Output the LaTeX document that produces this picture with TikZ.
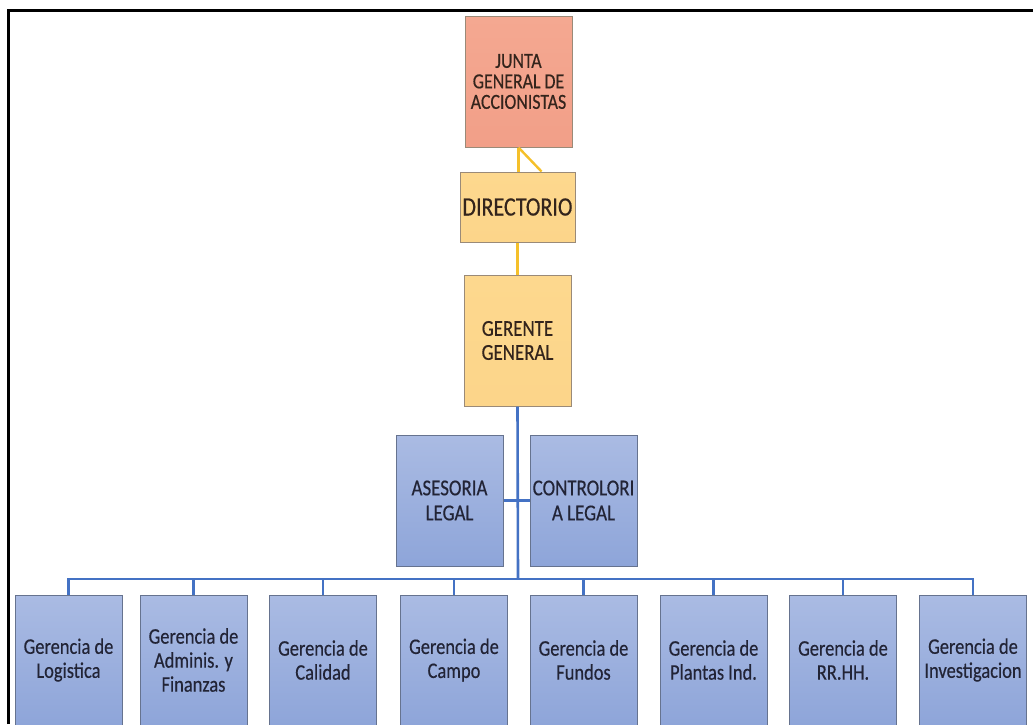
\documentclass[tikz,border=0pt]{standalone}
\usepackage{fontspec}
\setmainfont{Carlito}[FakeStretch=0.83, FakeBold=0.4]
\definecolor{salmon}{HTML}{F29F88}
\definecolor{salmontop}{HTML}{F4A891}
\definecolor{gold}{HTML}{FCD58A}
\definecolor{goldtop}{HTML}{FDD88E}
\definecolor{bluetop}{HTML}{AABBE3}
\definecolor{bluebot}{HTML}{8EA5D9}
\definecolor{blueedge}{HTML}{66738F}
\definecolor{orangeedge}{HTML}{9A8A78}
\definecolor{lineblue}{HTML}{4472C4}
\definecolor{lineyellow}{HTML}{F5C02A}
\definecolor{darktext}{HTML}{222436}
\definecolor{browntext}{HTML}{33241C}
\tikzset{
  orgbox/.style={draw, line width=1pt, inner sep=0pt, align=center, minimum width=107pt, minimum height=131pt},
  topbox/.style={orgbox, draw=orangeedge, top color=salmontop, bottom color=salmon, text=browntext,
    font=\fontsize{21.5}{20.5}\selectfont},
  goldbox/.style={orgbox, draw=orangeedge, top color=goldtop, bottom color=gold, text=browntext},
  bluebox/.style={orgbox, draw=blueedge, top color=bluetop, bottom color=bluebot, text=darktext,
    font=\fontsize{22.8}{25}\selectfont},
  bottombox/.style={bluebox, minimum height=130pt, font=\fontsize{22.2}{24}\selectfont},
  ylink/.style={draw=lineyellow, line width=2.4pt},
  blink/.style={draw=lineblue, line width=2.6pt},
}
\begin{document}
\begin{tikzpicture}[x=1pt,y=-1pt]
\useasboundingbox (0,0) rectangle (1033,724);
\clip (0,0) rectangle (1033,724);
\fill[white] (0,0) rectangle (1033,724);
% frame
\draw[line width=3pt, black] (8.5,724) -- (8.5,10) -- (1040,10);

% yellow links (drawn first, under the boxes)
\coordinate (jbot) at (518.5,147);
\coordinate (dtop) at (518.5,172);
\coordinate (dtopr) at (542,172);
\coordinate (dbot) at (518.5,242);
\coordinate (gtop) at (518.5,275);

\node[topbox] (junta) at (518.5,81.5) {JUNTA\\GENERAL DE\\ACCIONISTAS};
\node[goldbox, minimum width=115pt, minimum height=70pt, font=\fontsize{26.5}{24}\selectfont] (dir) at (517.5,207) {DIRECTORIO};
\node[goldbox, font=\fontsize{22.8}{24}\selectfont] (ger) at (517.5,340.5) {GERENTE\\GENERAL};
\node[bluebox] (ase) at (449.5,500.5) {ASESORIA\\LEGAL};
\node[bluebox] (con) at (583.5,500.5) {CONTROLORI\\A LEGAL};

\node[bottombox] (b1) at (68.5,660) {Gerencia de\\Logistica};
\node[bottombox] (b2) at (193.5,660) {Gerencia de\\Adminis. y\\Finanzas};
\node[bottombox] (b3) at (323,660) {Gerencia de\\Calidad};
\node[bottombox] (b4) at (454,660) {Gerencia de\\Campo};
\node[bottombox] (b5) at (583.5,660) {Gerencia de\\Fundos};
\node[bottombox] (b6) at (713.5,660) {Gerencia de\\Plantas Ind.};
\node[bottombox] (b7) at (843,660) {Gerencia de\\RR.HH.};
\node[bottombox] (b8) at (973,660) {Gerencia de\\Investigacion};

\draw[ylink] (junta.south) -- (junta.south |- dir.north);
\draw[ylink] (junta.south) -- ([xshift=24pt]dir.north);
\draw[ylink] (ger.north |- dir.south) -- (ger.north);

% blue links
\coordinate (bus) at (518,579);
\draw[blink] (ger.south) -- (bus);
\draw[blink] (ase.east) -- (con.west);
\draw[blink] (b1.north) -- (b1.north |- bus) -- (b8.north |- bus) -- (b8.north);
\foreach \b in {b2,b3,b4,b5,b6,b7} {
  \draw[blink] (\b.north) -- (\b.north |- bus);
}
\end{tikzpicture}
\end{document}
